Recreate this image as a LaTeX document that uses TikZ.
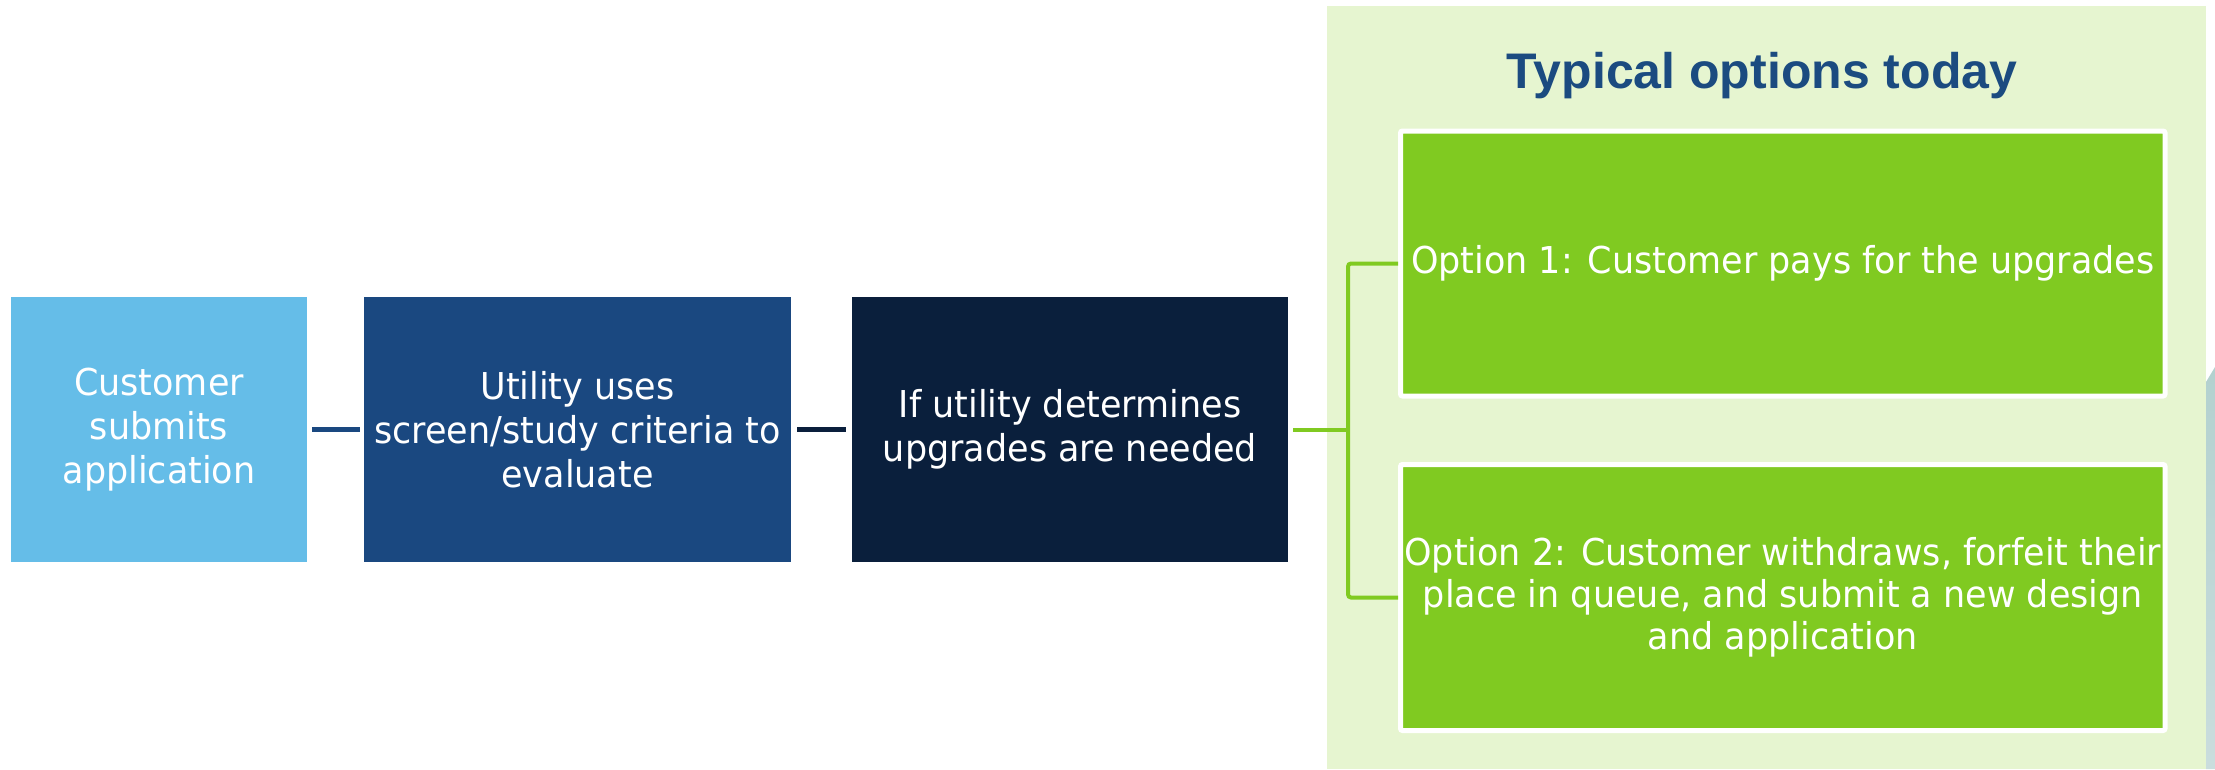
\documentclass[tikz,border=0pt]{standalone}
\usepackage{fontspec}
\setmainfont{DejaVu Sans}[FakeStretch=0.945]
\newfontfamily\titlefont{Liberation Sans}
\definecolor{lblue}{HTML}{65BDE8}
\definecolor{mblue}{HTML}{1A4880}
\definecolor{navy}{HTML}{0A1F3C}
\definecolor{lgreen}{HTML}{80CA21}
\definecolor{panelg}{HTML}{E6F5D0}
\definecolor{titleblue}{HTML}{1B4B80}
\definecolor{tealtop}{HTML}{B3D1CF}
\definecolor{tealbot}{HTML}{CADDDD}
\begin{document}
\begin{tikzpicture}[x=1pt,y=-1pt,
  stepbox/.style={inner sep=0pt, align=center, text=white,
    font=\fontsize{37}{44}\selectfont, minimum height=265pt},
  optbox/.style={inner sep=0pt, align=center, text=white, fill=lgreen,
    draw=white, line width=5pt, rounded corners=2pt,
    font=\fontsize{37}{42}\selectfont, minimum width=764.5pt},
  conn/.style={line width=4.5pt},
  gline/.style={line width=4pt, lgreen}
]
\useasboundingbox (0,0) rectangle (2215,769);
\fill[white] (0,0) rectangle (2215,769);
% panel
\fill[panelg] (1327,6) rectangle (2206,769);
% partial teal shape at right edge
\shade[top color=tealtop, bottom color=tealbot] (2206,382) -- (2215,367) -- (2215,769) -- (2206,769) -- cycle;
% title
\node[anchor=base, text=titleblue, font=\titlefont\bfseries\fontsize{50}{60}\selectfont] (title) at (1762,88) {Typical options today};
% step boxes
\node[stepbox, fill=lblue, minimum width=296pt] (b1) at (159,429.5) {Customer\\submits\\application};
\node[stepbox, fill=mblue, minimum width=427pt] (b2) at (577.5,429.5) {Utility uses\\screen/study criteria to\\evaluate};
\node[stepbox, fill=navy, minimum width=436pt] (b3) at (1070,429.5) {If utility determines\\upgrades are needed};
% option boxes
\node[optbox, minimum height=265pt] (o1) at (1782.75,263.5) {Option 1: Customer pays for the upgrades};
\node[optbox, minimum height=266pt] (o2) at (1782.75,597.5) {Option 2: Customer withdraws, forfeit their\\place in queue, and submit a new design\\and application};
% connectors
\draw[conn, mblue, shorten <=5pt, shorten >=4pt] (b1.east) -- (b2.west);
\draw[conn, navy, shorten <=6pt, shorten >=6pt] (b2.east) -- (b3.west);
\coordinate (j) at (1348,429.5);
\draw[gline, shorten <=5pt] (b3.east) -- (j);
\draw[gline, rounded corners=3pt] (o1.west) -| (j) |- (o2.west);
\end{tikzpicture}
\end{document}
